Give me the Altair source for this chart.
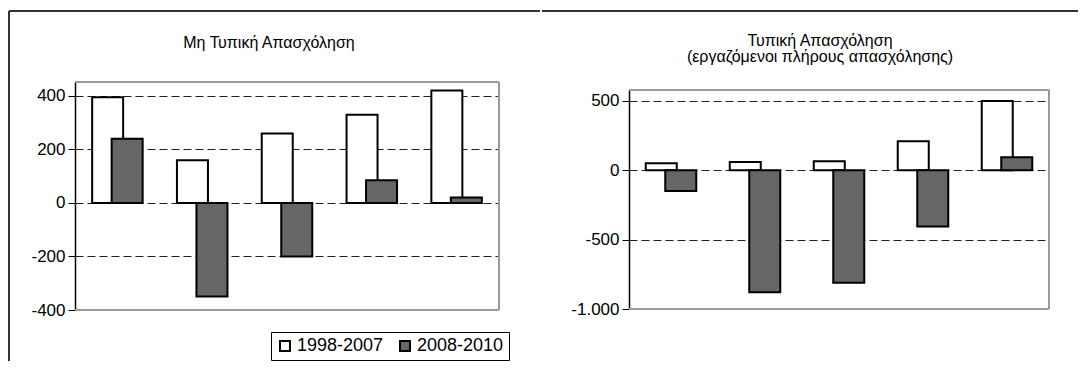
import altair as alt
import pandas as pd

categories = ["Α", "Β", "Γ", "Δ", "Ε"]
series = ["1998-2007", "2008-2010"]
nonstd_1998_2007 = [395, 160, 260, 330, 420]
nonstd_2008_2010 = [240, -350, -200, 85, 20]
std_1998_2007 = [50, 60, 65, 210, 500]
std_2008_2010 = [-150, -880, -810, -405, 95]

left_title = "Μη Τυπική Απασχόληση"
right_title = ["Τυπική Απασχόληση", "(εργαζόμενοι πλήρους απασχόλησης)"]
left_ticks = [-400, -200, 0, 200, 400]
right_ticks = [-1000, -500, 0, 500]
left_domain = [-400, 452]
right_domain = [-1000, 579]

FONT = "Liberation Sans"
FRAME = "#333333"
BORDER = "#999999"
label_expr = "(datum.value < 0 ? '-' : '') + replace(format(abs(datum.value), ','), ',', '.')"


def one_row():
    return pd.DataFrame({"k": [0]})


def rule(**enc):
    return alt.Chart(one_row()).mark_rule(color=enc.pop("color", FRAME), strokeWidth=2).encode(
        **{k: alt.value(v) for k, v in enc.items()})


def panel(v1, v2, title, ticks, domain, width, height, y_range, title_dx, title_y,
          legend, extras):
    df = pd.DataFrame({
        "cat": categories * 2,
        "series": [series[0]] * len(categories) + [series[1]] * len(categories),
        "value": v1 + v2,
    })
    x = alt.X("cat:N", sort=categories, axis=None,
              scale=alt.Scale(paddingInner=0, paddingOuter=0))
    y = alt.Y("value:Q", scale=alt.Scale(domain=domain, nice=False, range=y_range),
              axis=alt.Axis(values=ticks, title=None, grid=True, gridDash=[8, 4],
                            gridColor="#222222", gridWidth=1,
                            gridOpacity={"condition": {"test": f"datum.value == {ticks[0]}", "value": 0}, "value": 1},
                            domainColor="black", domainWidth=1.5,
                            tickColor="black", tickSize=7, tickWidth=1,
                            labelPadding=3, labelExpr=label_expr,
                            labelFontSize=17, labelFont=FONT, labelColor="black"))
    color = alt.Color("series:N", scale=alt.Scale(domain=series, range=["white", "#666666"]),
                      legend=legend)
    base = alt.Chart(df)
    b1 = base.transform_filter(alt.datum.series == series[0]).mark_bar(
        width=31, xOffset=-9.75, stroke="black", strokeWidth=2
    ).encode(x=x, y=y, color=color)
    b2 = base.transform_filter(alt.datum.series == series[1]).mark_bar(
        width=31, xOffset=9.75, stroke="black", strokeWidth=2
    ).encode(x=x, y=y, color=color)
    ttl = alt.Chart(one_row()).mark_text(
        font=FONT, fontSize=16, color="black", align="center", baseline="alphabetic",
        lineHeight=16.5
    ).encode(x=alt.value(width / 2 + title_dx), y=alt.value(title_y), text=alt.value(title))
    return alt.layer(*extras, b1, b2, ttl).properties(
        width=width, height=height, view=alt.ViewBackground(strokeOpacity=0))


# left panel: plot area 424 x 228, bordered top/right/bottom in grey
left_extras = [
    rule(color=BORDER, x=0, x2=424, y=0),
    rule(color=BORDER, x=424, y=0, y2=228),
    rule(color=BORDER, x=0, x2=424, y=228),
    rule(x=-66, y=-71, y2=279),
    rule(x=-66, x2=465, y=-71),
]
# right panel: plot area starts 8px lower than the left one
right_extras = [
    rule(color=BORDER, x=0, x2=420, y=8),
    rule(color=BORDER, x=420, y=8, y2=227),
    rule(color=BORDER, x=0, x2=420, y=227),
    rule(x=-87, x2=449, y=-71),
]

legend = alt.Legend(orient="none", legendX=196, legendY=250, direction="horizontal",
                    title=None, strokeColor="black", padding=5, fillColor="white",
                    labelFontSize=18, labelFont=FONT, labelColor="black",
                    symbolType="square", symbolSize=100, symbolStrokeColor="black",
                    symbolStrokeWidth=2, columnPadding=12, labelOffset=3)

left = panel(nonstd_1998_2007, nonstd_2008_2010, left_title, left_ticks, left_domain,
             424, 228, [228, 0], -18, -34.5, legend, left_extras)
right = panel(std_1998_2007, std_2008_2010, right_title, right_ticks, right_domain,
              420, 227, [227, 8], -19, -36.5, None, right_extras)

chart = alt.hconcat(left, right, spacing=0).resolve_scale(
    x="independent", y="independent", color="independent"
).resolve_legend(color="independent").properties(
    padding={"left": 0, "top": 2, "right": 0, "bottom": 0}
).configure(font=FONT)

chart.save("out.html", embed_options={"renderer": "svg", "actions": False})
